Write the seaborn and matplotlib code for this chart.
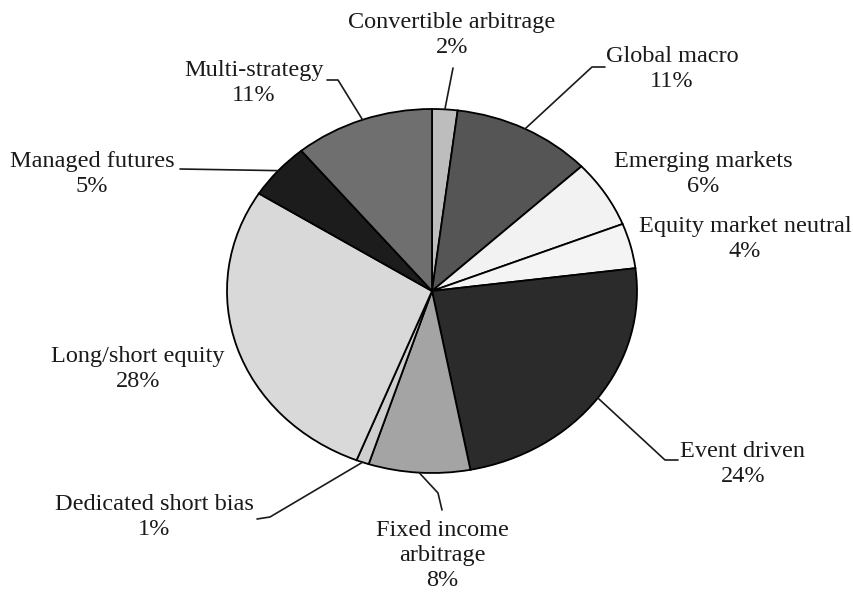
import matplotlib
matplotlib.use("Agg")
import matplotlib.pyplot as plt
import seaborn as sns
import numpy as np

# strategy shares (%), clockwise from 12 o'clock
strategies = ["Convertible arbitrage", "Global macro", "Emerging markets",
              "Equity market neutral", "Event driven", "Fixed income\narbitrage",
              "Dedicated short bias", "Long/short equity", "Managed futures",
              "Multi-strategy"]
shares = [2, 11, 6, 4, 24, 8, 1, 28, 5, 11]
grays = ["#bdbdbd", "#555555", "#f2f2f2", "#f4f4f4", "#2b2b2b",
         "#a4a4a4", "#cfcfcf", "#d9d9d9", "#1c1c1c", "#6f6f6f"]

# label block centres and leader-line elbows, in pixels (origin top-left)
label_pos = [(452, 35), (672, 69), (703, 174), (745, 239), (743, 464),
             (442, 556), (154, 517), (138, 369), (92, 174), (254, 83)]
leader_pts = [[(453, 68)],
              [(592, 67), (605, 67)],
              [],
              [],
              [(665, 460), (678, 460)],
              [(438, 493), (442, 510)],
              [(270, 517), (257, 519)],
              [],
              [(180, 169)],
              [(338, 80), (327, 80)]]

sns.set_theme(style="white")
plt.rcParams["font.family"] = ["Liberation Serif", "DejaVu Serif"]

W, H = 854, 594
fig = plt.figure(figsize=(W / 100, H / 100), dpi=100)

# pie drawn slightly squashed, as in the source scan
pie_ax = fig.add_axes([227 / W, 1 - 473 / H, 410 / W, 364 / H])
pie_ax.pie(shares, colors=grays, startangle=90, counterclock=False,
           wedgeprops=dict(edgecolor="black", linewidth=1.3))
pie_ax.set_aspect("auto")
pie_ax.set_xlim(-1, 1)
pie_ax.set_ylim(-1, 1)
pie_ax.axis("off")

ax = fig.add_axes([0, 0, 1, 1], zorder=2)
ax.set_xlim(0, W)
ax.set_ylim(H, 0)
ax.patch.set_alpha(0)
ax.axis("off")

to_px = pie_ax.transData + ax.transData.inverted()
total = sum(shares)
cum = np.cumsum(shares)
for i, (name, v) in enumerate(zip(strategies, shares)):
    ang = np.deg2rad(360 * (cum[i] - v / 2) / total)
    if leader_pts[i]:
        start = to_px.transform((np.sin(ang), np.cos(ang)))
        xs = [start[0]] + [p[0] for p in leader_pts[i]]
        ys = [start[1]] + [p[1] for p in leader_pts[i]]
        ax.plot(xs, ys, color="#1a1a1a", lw=1.2)
    x, y = label_pos[i]
    ax.text(x, y, f"{name}\n{v}%", ha="center", va="center",
            multialignment="center", fontsize=17.5, color="#1a1a1a",
            linespacing=1.25)

fig.savefig("out.png", dpi=100)
